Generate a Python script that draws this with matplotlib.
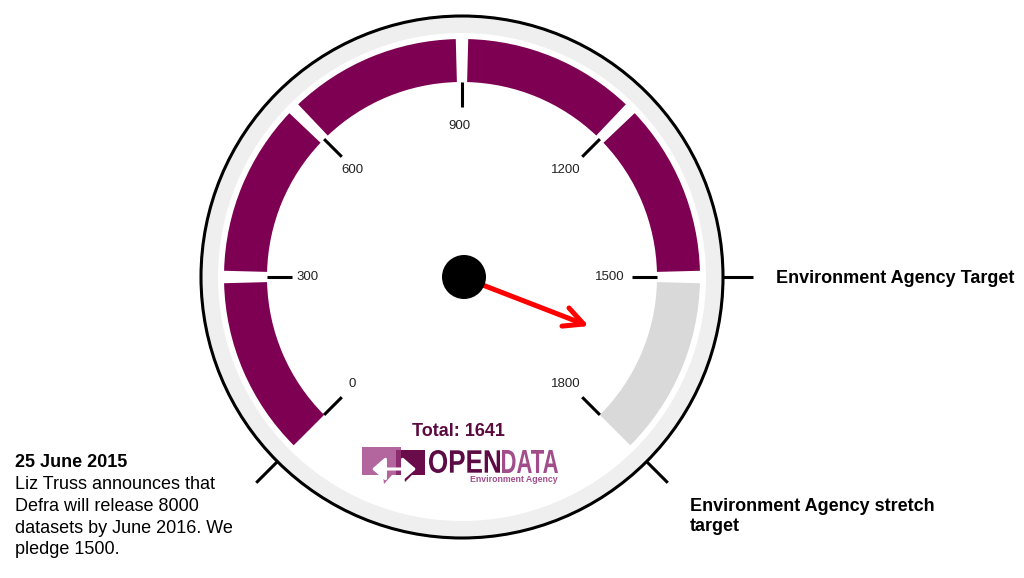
import numpy as np
import matplotlib
matplotlib.use("Agg")
import matplotlib.pyplot as plt
from matplotlib.patches import Wedge, Circle, Polygon, PathPatch, FancyArrowPatch
from matplotlib.textpath import TextPath
from matplotlib.font_manager import FontProperties
from matplotlib.transforms import Affine2D

# ---------------- data ----------------
gauge_min = 0
gauge_max = 1800
tick_values = [0, 300, 600, 900, 1200, 1500, 1800]
tick_labels = ["0", "300", "600", "900", "1200", "1500", "1800"]
band_starts = [0, 300, 600, 900, 1200, 1500]
band_ends = [300, 600, 900, 1200, 1500, 1800]
band_reached = [True, True, True, True, True, False]
total = 1641
total_label = "Total: 1641"
announce_value = 0
target_value = 1500
stretch_value = 1800
target_label = "Environment Agency Target"
stretch_lines = ["Environment Agency stretch", "target"]
note_title = "25 June 2015"
note_lines = ["Liz Truss announces that", "Defra will release 8000",
              "datasets by June 2016. We", "pledge 1500."]

# ---------------- style ----------------
PURPLE = "#7d0052"
GREY_BAND = "#d9d9d9"
RING = "#efefef"
DARK_TEXT = "#5a0a3e"
W, H = 1024, 578
CX, CY = 462, H - 277
LINE = 21.7

plt.rcParams["font.family"] = ["Liberation Sans", "DejaVu Sans"]

fig = plt.figure(figsize=(W / 100, H / 100), dpi=100)
ax = fig.add_axes([0, 0, 1, 1])
ax.set_xlim(0, W)
ax.set_ylim(0, H)
ax.set_aspect("equal")
ax.axis("off")


def Y(y):
    return H - y


def ang(v):
    return 225.0 - (v - gauge_min) / (gauge_max - gauge_min) * 270.0


def pol(r, a):
    t = np.deg2rad(a)
    return CX + r * np.cos(t), CY + r * np.sin(t)


# outer ring
ax.add_patch(Wedge((CX, CY), 261, 0, 360, width=17, facecolor=RING, edgecolor="none", zorder=1))
ax.add_patch(Circle((CX, CY), 261, fill=False, edgecolor="black", lw=2.2, zorder=3))

# bands
gap = 1.5
for s, e, ok in zip(band_starts, band_ends, band_reached):
    a_hi = ang(s) - (gap if s != gauge_min else 0)
    a_lo = ang(e) + (gap if e != gauge_max else 0)
    ax.add_patch(Wedge((CX, CY), 238, a_lo, a_hi, width=43,
                       facecolor=PURPLE if ok else GREY_BAND, edgecolor="none", zorder=2))

# inner ticks and labels
for v, lab in zip(tick_values, tick_labels):
    a = ang(v)
    x1, y1 = pol(170, a)
    x2, y2 = pol(195, a)
    ax.plot([x1, x2], [y1, y2], color="black", lw=2.2, solid_capstyle="butt", zorder=4)
    lx, ly = pol(151, a)
    ax.text(lx - 3, ly, lab, ha="center", va="center", fontsize=9.5, color="#222222", zorder=4)

# outer marker ticks
for v in [announce_value, target_value, stretch_value]:
    a = ang(v)
    x1, y1 = pol(261, a)
    x2, y2 = pol(291, a)
    ax.plot([x1, x2], [y1, y2], color="black", lw=2.2, solid_capstyle="butt", zorder=4)

# needle
a = ang(total)
ax.annotate("", xy=pol(136, a), xytext=(CX, CY),
            arrowprops=dict(arrowstyle="->,head_length=1.4,head_width=0.7",
                            color="#ff0000", lw=3.6, shrinkA=0, shrinkB=0), zorder=5)
ax.add_patch(Circle((CX + 2, CY), 22, facecolor="black", edgecolor="none", zorder=6))

# annotations
ax.text(776, Y(283.3), target_label, ha="left", va="baseline", fontsize=13,
        fontweight="bold", color="black")
for i, s in enumerate(stretch_lines):
    ax.text(690, Y(510.7 + i * 20), s, ha="left", va="baseline", fontsize=13,
            fontweight="bold", color="black")
ax.text(15, Y(467.3), note_title, ha="left", va="baseline", fontsize=13,
        fontweight="bold", color="black")
for i, s in enumerate(note_lines):
    ax.text(15, Y(489.3 + i * LINE), s, ha="left", va="baseline", fontsize=13,
            color="black")

# total
ax.text(458, Y(436), total_label, ha="center", va="baseline", fontsize=13,
        fontweight="bold", color=DARK_TEXT)

# ---------------- logo ----------------
light = "#b3669e"
dark = "#6a0b4a"
mid = "#8c2b6e"
ax.add_patch(Polygon([(362, Y(447)), (401, Y(447)), (401, Y(475)), (392, Y(475)),
                      (384, Y(484)), (383, Y(475)), (362, Y(475))],
                     closed=True, facecolor=light, edgecolor="none", zorder=2))
ax.add_patch(Polygon([(396, Y(450)), (425, Y(450)), (425, Y(475)), (412, Y(475)),
                      (405, Y(482)), (404, Y(475)), (396, Y(475))],
                     closed=True, facecolor=dark, edgecolor="none", zorder=2))
ax.add_patch(Polygon([(396, Y(450)), (401, Y(450)), (401, Y(475)), (396, Y(475))],
                     closed=True, facecolor=mid, edgecolor="none", zorder=2))
ax.add_patch(FancyArrowPatch((372, Y(469)), (416, Y(469)),
                             arrowstyle="<|-|>,head_length=0.8,head_width=0.7",
                             mutation_scale=10, color="white", lw=2.2,
                             shrinkA=0, shrinkB=0, zorder=3))

fp = FontProperties(family="Liberation Sans", weight="bold")


def fit_text(s, x0, x1, ytop, ybot, color):
    tp = TextPath((0, 0), s, size=20, prop=fp)
    ext = tp.get_extents()
    tr = (Affine2D().translate(-ext.x0, -ext.y0)
          .scale((x1 - x0) / ext.width, (ytop - ybot) / ext.height)
          .translate(x0, ybot))
    ax.add_patch(PathPatch(tr.transform_path(tp), facecolor=color, edgecolor="none", zorder=3))


fit_text("OPEN", 429, 500, Y(450), Y(473), "#5c0b44")
fit_text("DATA", 502, 558, Y(450), Y(473), "#a24d8b")
ax.text(558, Y(479), "Environment Agency", ha="right", va="center", fontsize=6.3,
        color="#a24d8b", fontweight="bold", fontstretch="condensed")

fig.savefig("out.png", dpi=100)
